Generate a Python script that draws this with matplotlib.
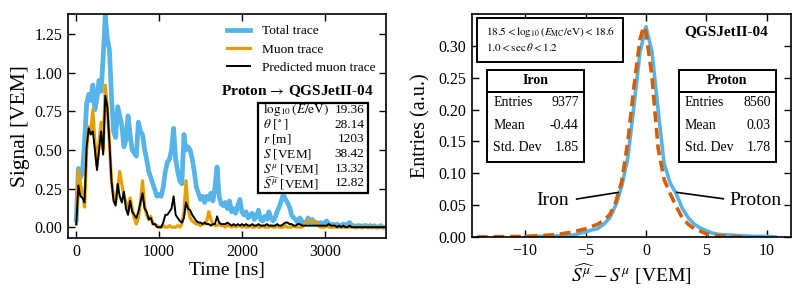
import numpy as np
import matplotlib
matplotlib.use("Agg")
import matplotlib.pyplot as plt
from matplotlib.patches import Rectangle

plt.rcParams['font.family'] = ['Liberation Serif', 'DejaVu Serif']
plt.rcParams['mathtext.fontset'] = 'stix'
plt.rcParams['axes.unicode_minus'] = True

# ---------------- data: left panel (25 ns bins) ----------------
time_ns = np.arange(0, 3751, 25)
total_trace = [
    0.05, 0.38, 0.32, 0.36, 0.55, 0.80, 0.86, 0.82, 0.92, 0.76,
    0.84, 0.95, 0.88, 1.10, 1.37, 1.22, 1.15, 0.85, 0.62, 0.58,
    0.78, 0.72, 0.66, 0.52, 0.56, 0.72, 0.60, 0.50, 0.48, 0.46,
    0.68, 0.62, 0.60, 0.50, 0.44, 0.36, 0.32, 0.28, 0.24, 0.20,
    0.21, 0.20, 0.26, 0.36, 0.42, 0.44, 0.50, 0.64, 0.44, 0.36,
    0.30, 0.28, 0.60, 0.50, 0.52, 0.50, 0.44, 0.36, 0.26, 0.22,
    0.18, 0.20, 0.16, 0.20, 0.18, 0.22, 0.17, 0.26, 0.39, 0.20,
    0.15, 0.14, 0.16, 0.12, 0.17, 0.10, 0.12, 0.09, 0.14, 0.18,
    0.10, 0.08, 0.10, 0.06, 0.08, 0.09, 0.05, 0.07, 0.11, 0.05,
    0.04, 0.07, 0.05, 0.10, 0.06, 0.04, 0.06, 0.10, 0.13, 0.17,
    0.21, 0.18, 0.16, 0.13, 0.08, 0.06, 0.05, 0.03, 0.06, 0.04,
    0.02, 0.03, 0.06, 0.03, 0.05, 0.02, 0.03, 0.02, 0.03, 0.02,
    0.03, 0.04, 0.02, 0.01, 0.02, 0.01, 0.02, 0.01, 0.01, 0.02,
    0.01, 0.02, 0.03, 0.01, 0.01, 0.00, 0.01, 0.01, 0.00, 0.01,
    0.01, 0.00, 0.01, 0.00, 0.01, 0.00, 0.00, 0.01, 0.00, 0.00, 0.00,
]
muon_trace = [
    0.02, 0.37, 0.28, 0.22, 0.13, 0.50, 0.65, 0.62, 0.76, 0.55,
    0.40, 0.55, 0.68, 0.50, 0.92, 0.78, 0.55, 0.30, 0.20, 0.16,
    0.25, 0.36, 0.28, 0.20, 0.16, 0.10, 0.19, 0.12, 0.06, 0.02,
    0.06, 0.16, 0.30, 0.14, 0.08, 0.05, 0.07, 0.02, 0.02, 0.01,
    0.00, 0.00, 0.01, 0.00, 0.00, 0.01, 0.00, 0.00, 0.00, 0.01,
    0.00, 0.02, 0.10, 0.30, 0.12, 0.06, 0.04, 0.03, 0.02, 0.02,
    0.01, 0.02, 0.02, 0.04, 0.10, 0.05, 0.02, 0.01, 0.01, 0.02,
    0.01, 0.01, 0.00, 0.01, 0.01, 0.00, 0.01, 0.00, 0.01, 0.01,
    0.00, 0.01, 0.00, 0.00, 0.01, 0.00, 0.00, 0.01, 0.00, 0.00,
    0.01, 0.00, 0.00, 0.00, 0.01, 0.00, 0.00, 0.01, 0.00, 0.00,
    0.00, 0.01, 0.00, 0.00, 0.00, 0.01, 0.00, 0.00, 0.00, 0.00,
    0.01, 0.03, 0.04, 0.04, 0.04, 0.04, 0.03, 0.01, 0.00, 0.00,
    0.00, 0.01, 0.00, 0.00, 0.00, 0.00, 0.00, 0.00, 0.00, 0.00,
    0.00, 0.00, 0.00, 0.00, 0.00, 0.00, 0.00, 0.00, 0.00, 0.00,
    0.00, 0.00, 0.00, 0.00, 0.00, 0.00, 0.00, 0.00, 0.00, 0.00, 0.00,
]
predicted_trace = [
    0.02, 0.27, 0.20, 0.19, 0.16, 0.52, 0.64, 0.60, 0.62, 0.50,
    0.37, 0.50, 0.62, 0.47, 0.85, 0.78, 0.55, 0.30, 0.17, 0.14,
    0.28, 0.20, 0.16, 0.23, 0.12, 0.08, 0.17, 0.10, 0.08, 0.06,
    0.10, 0.16, 0.22, 0.12, 0.10, 0.05, 0.06, 0.02, 0.02, 0.00,
    0.00, 0.00, 0.03, 0.08, 0.08, 0.10, 0.12, 0.20, 0.08, 0.06,
    0.04, 0.03, 0.06, 0.16, 0.12, 0.11, 0.08, 0.06, 0.04, 0.03,
    0.03, 0.02, 0.03, 0.02, 0.02, 0.01, 0.02, 0.02, 0.07, 0.03,
    0.02, 0.02, 0.02, 0.03, 0.02, 0.01, 0.02, 0.01, 0.02, 0.01,
    0.02, 0.01, 0.02, 0.01, 0.01, 0.02, 0.01, 0.01, 0.02, 0.01,
    0.01, 0.01, 0.02, 0.01, 0.01, 0.01, 0.01, 0.02, 0.01, 0.01,
    0.02, 0.03, 0.03, 0.02, 0.02, 0.01, 0.01, 0.02, 0.02, 0.01,
    0.01, 0.01, 0.01, 0.01, 0.01, 0.01, 0.01, 0.01, 0.01, 0.01,
    0.01, 0.01, 0.02, 0.01, 0.01, 0.01, 0.00, 0.01, 0.00, 0.01,
    0.00, 0.00, 0.01, 0.00, 0.00, 0.00, 0.00, 0.00, 0.00, 0.00,
    0.00, 0.00, 0.00, 0.00, 0.00, 0.00, 0.00, 0.00, 0.00, 0.00, 0.00,
]
event_labels = [r'$\log_{10}(E/\mathrm{eV})$', r'$\theta\;[^\circ]$', r'$r$ [m]',
                r'$S$ [VEM]', r'$S^{\mu}$ [VEM]', r'$\widehat{S^{\mu}}$ [VEM]']
event_values = ['19.36', '28.14', '1203', '38.42', '13.32', '12.82']

# ---------------- data: right panel ----------------
proton_x = [-10, -9, -8, -7, -6, -5, -4.5, -4, -3.5, -3, -2.5, -2, -1.5, -1, -0.5, 0,
            0.5, 1, 1.5, 2, 2.5, 3, 3.5, 4, 4.5, 5, 5.5, 6, 7, 8, 9, 10, 10.7]
proton_y = [0.000, 0.001, 0.001, 0.002, 0.003, 0.008, 0.011, 0.013, 0.020, 0.030, 0.050,
            0.080, 0.125, 0.205, 0.290, 0.330, 0.290, 0.200, 0.115, 0.085, 0.068, 0.045,
            0.030, 0.020, 0.014, 0.010, 0.006, 0.004, 0.003, 0.002, 0.001, 0.001, 0.000]
iron_x = [-14, -12, -10, -9, -8, -7, -6, -5, -4, -3.5, -3, -2.5, -2, -1.5, -1, -0.5, -0.2,
          0, 0.5, 1, 1.5, 2, 2.5, 3, 3.5, 4, 4.5, 5, 5.5, 6, 7, 8]
iron_y = [0.000, 0.0005, 0.001, 0.002, 0.003, 0.005, 0.008, 0.013, 0.020, 0.026, 0.035,
          0.055, 0.088, 0.150, 0.235, 0.310, 0.330, 0.322, 0.250, 0.140, 0.090, 0.068,
          0.048, 0.030, 0.020, 0.013, 0.009, 0.005, 0.003, 0.002, 0.001, 0.000]
stat_rows = ['Entries', 'Mean', 'Std. Dev']
iron_stats = ['9377', '-0.44', '1.85']
proton_stats = ['8560', '0.03', '1.78']

BLUE = '#56B4E9'
ORANGE = '#E69F00'
VERMIL = '#D55E00'

fig = plt.figure(figsize=(8.04, 3.0), dpi=100)
axL = fig.add_axes([68/804, 1-238/300, 318/804, 224/300])
axR = fig.add_axes([472/804, 1-237/300, 319/804, 223/300])

for ax in (axL, axR):
    ax.tick_params(direction='in', top=True, right=True, length=5, width=1.0,
                   labelsize=11.5, pad=4)
    for s in ax.spines.values():
        s.set_linewidth(1.2)

# ---- left panel ----
axL.plot(time_ns, total_trace, color=BLUE, lw=3.4, label='Total trace')
axL.plot(time_ns, muon_trace, color=ORANGE, lw=2.3, label='Muon trace')
axL.plot(time_ns, predicted_trace, color='black', lw=1.4, label='Predicted muon trace')
axL.set_xlim(-100, 3740)
axL.set_ylim(-0.07, 1.38)
axL.set_xticks([0, 1000, 2000, 3000])
axL.set_yticks([0, 0.25, 0.5, 0.75, 1.0, 1.25])
axL.yaxis.set_major_formatter(matplotlib.ticker.FormatStrFormatter('%.2f'))
axL.set_xlabel('Time [ns]', fontsize=14, labelpad=2)
axL.set_ylabel('Signal [VEM]', fontsize=15.5, labelpad=3)
axL.legend(loc='upper right', bbox_to_anchor=(0.985, 0.975), frameon=False, fontsize=9.6,
           handlelength=1.75, handletextpad=0.9, labelspacing=0.45, borderaxespad=0)

axL.text(0.962, 0.656, r'Proton$\,\rightarrow\,$QGSJetII-04', transform=axL.transAxes,
         ha='right', va='center', fontsize=11, fontweight='bold')
axL.add_patch(Rectangle((0.597, 0.201), 0.346, 0.402, transform=axL.transAxes,
                        facecolor='white', edgecolor='black', lw=1.6, zorder=5))
for i, (lab, val) in enumerate(zip(event_labels, event_values)):
    y = 0.571 - i * 0.0655
    axL.text(0.612, y, lab, transform=axL.transAxes, ha='left', va='center',
             fontsize=9.5, zorder=6)
    axL.text(0.932, y, val, transform=axL.transAxes, ha='right', va='center',
             fontsize=9.5, zorder=6)

# ---- right panel ----
axR.plot(proton_x, proton_y, color=BLUE, lw=2.6)
axR.plot(iron_x, iron_y, color=VERMIL, lw=2.6, linestyle=(0, (3.0, 1.6)))
axR.set_xlim(-14.4, 12.0)
axR.set_ylim(0, 0.35)
axR.set_xticks([-10, -5, 0, 5, 10])
axR.set_yticks([0, 0.05, 0.10, 0.15, 0.20, 0.25, 0.30])
axR.yaxis.set_major_formatter(matplotlib.ticker.FormatStrFormatter('%.2f'))
axR.set_xlabel(r'$\widehat{S^{\mu}} - S^{\mu}$ [VEM]', fontsize=14, labelpad=2)
axR.set_ylabel('Entries (a.u.)', fontsize=14.5, labelpad=6)

axR.add_patch(Rectangle((0.016, 0.785), 0.457, 0.197, transform=axR.transAxes,
                        facecolor='white', edgecolor='black', lw=1.4, zorder=5))
axR.text(0.044, 0.919, r'$18.5 < \log_{10}(E_{\mathrm{MC}}/\mathrm{eV}) < 18.6$',
         transform=axR.transAxes, ha='left', va='center', fontsize=8, zorder=6)
axR.text(0.044, 0.852, r'$1.0 < \sec\theta < 1.2$',
         transform=axR.transAxes, ha='left', va='center', fontsize=8, zorder=6)
axR.text(0.928, 0.919, 'QGSJetII-04', transform=axR.transAxes, ha='right', va='center',
         fontsize=11, fontweight='bold')


def stat_box(ax, x0, x1, title, vals):
    ax.add_patch(Rectangle((x0, 0.336), x1 - x0, 0.413, transform=ax.transAxes,
                           facecolor='white', edgecolor='black', lw=1.4, zorder=5))
    ax.plot([x0, x1], [0.652, 0.652], transform=ax.transAxes, color='black', lw=1.4, zorder=6)
    ax.text((x0 + x1) / 2, 0.70, title, transform=ax.transAxes, ha='center', va='center',
            fontsize=10, fontweight='bold', zorder=6)
    for i, (lab, v) in enumerate(zip(stat_rows, vals)):
        y = 0.602 - i * 0.10
        ax.text(x0 + 0.019, y, lab, transform=ax.transAxes, ha='left', va='center',
                fontsize=10, zorder=6)
        ax.text(x1 - 0.016, y, v, transform=ax.transAxes, ha='right', va='center',
                fontsize=10, zorder=6)


stat_box(axR, 0.047, 0.351, 'Iron', iron_stats)
stat_box(axR, 0.648, 0.952, 'Proton', proton_stats)

axR.plot([-5.74, -2.29], [0.0596, 0.070], color='black', lw=1.2)
axR.plot([2.54, 6.4], [0.070, 0.060], color='black', lw=1.2)
axR.text(-7.7, 0.058, 'Iron', ha='center', va='center', fontsize=14)
axR.text(9.05, 0.058, 'Proton', ha='center', va='center', fontsize=14)

fig.savefig('out.png', dpi=100)
